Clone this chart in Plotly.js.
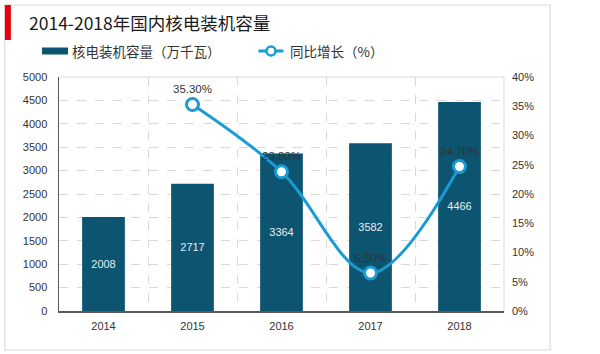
<!DOCTYPE html>
<html>
<head>
<meta charset="utf-8">
<script src="https://cdn.plot.ly/plotly-3.0.1.min.js"></script>
<style>
html,body{margin:0;padding:0;background:#fff;}
#chart{width:600px;height:354px;}
</style>
</head>
<body>
<div id="chart"></div>
<script>
const years = ['2014', '2015', '2016', '2017', '2018'];
const capacity = [2008, 2717, 3364, 3582, 4466];
const growth = [null, 35.3, 23.8, 6.5, 24.7];
const seriesNames = ['核电装机容量（万千瓦）', '同比增长（%）'];
const chartTitle = '2014-2018年国内核电装机容量';

const FONT = 'Liberation Sans, Arial, Noto Sans CJK SC, sans-serif';
const barColor = '#0c5470';
const lineColor = '#1a9bd3';

const traces = [
  {
    type: 'bar', x: years, y: capacity, name: seriesNames[0],
    marker: {color: barColor}, width: 0.48,
    text: capacity.map(String), textposition: 'inside', insidetextanchor: 'middle',
    textfont: {family: FONT, size: 11, color: '#e4eef3'},
    showlegend: false, hoverinfo: 'skip', cliponaxis: false
  },
  {
    type: 'scatter', mode: 'lines+markers+text', x: years, y: growth, name: seriesNames[1],
    yaxis: 'y2', line: {color: lineColor, width: 3, shape: 'spline', smoothing: 1},
    marker: {size: 12, color: '#ffffff', line: {color: lineColor, width: 3}},
    text: growth.map(v => v == null ? '' : v.toFixed(2) + '%'), textposition: 'top center',
    textfont: {family: FONT, size: 11.5, color: '#333333'},
    showlegend: false, hoverinfo: 'skip', cliponaxis: false
  }
];

const layout = {
  width: 600, height: 354,
  margin: {l: 59, r: 96, t: 77, b: 43},
  paper_bgcolor: '#ffffff', plot_bgcolor: '#ffffff',
  font: {family: FONT, size: 11, color: '#333333'},
  bargap: 0.52,
  xaxis: {
    type: 'category', tickson: 'boundaries', showgrid: true,
    gridcolor: '#d9d9d9', griddash: 'dash', gridwidth: 1,
    showline: true, linecolor: '#595959', linewidth: 1.5,
    ticks: '', ticklabelstandoff: 4, tickfont: {family: FONT, size: 11, color: '#333333'},
    fixedrange: true
  },
  yaxis: {
    range: [0, 5000], dtick: 500, showgrid: true, gridcolor: '#d9d9d9', griddash: 'dash',
    showline: true, linecolor: '#595959', linewidth: 1.5, zeroline: false,
    ticks: '', ticklabelstandoff: 8, tickfont: {family: FONT, size: 11, color: '#333333'}
  },
  yaxis2: {
    overlaying: 'y', side: 'right', range: [0, 40], dtick: 5, ticksuffix: '%',
    showgrid: false, zeroline: false, showline: false, ticklabelstandoff: 7,
    tickfont: {family: FONT, size: 11, color: '#333333'}
  },
  shapes: [
    {type: 'rect', xref: 'paper', yref: 'paper', x0: -54/444, x1: 490/444, y0: -39/234, y1: 306/234,
     line: {color: '#dcdcdc', width: 1.2}, fillcolor: 'rgba(0,0,0,0)', layer: 'below'},
    {type: 'rect', xref: 'paper', yref: 'paper', x0: -54/444, x1: -48/444, y0: 271/234, y1: 306/234,
     line: {width: 0}, fillcolor: '#e8000b'},
    {type: 'line', xref: 'paper', yref: 'paper', x0: 0, x1: 1, y0: 1, y1: 1, line: {color: '#d9d9d9', width: 1}},
    {type: 'line', xref: 'paper', yref: 'paper', x0: 1, x1: 1, y0: 0, y1: 1, line: {color: '#d9d9d9', width: 1}},
    {type: 'rect', xref: 'paper', yref: 'paper', x0: -17/444, x1: 9/444, y0: 256.5/234, y1: 263.5/234,
     line: {width: 0}, fillcolor: barColor},
    {type: 'line', xref: 'paper', yref: 'paper', x0: 199/444, x1: 224/444, y0: 260/234, y1: 260/234,
     line: {color: lineColor, width: 3}},
    {type: 'circle', xref: 'paper', yref: 'paper', x0: 207/444, x1: 216/444, y0: 255.5/234, y1: 264.5/234,
     line: {color: lineColor, width: 2.5}, fillcolor: '#ffffff'}
  ],
  annotations: [
    {text: chartTitle, xref: 'paper', yref: 'paper', x: -32/444, y: 288/234, xanchor: 'left', yanchor: 'middle',
     showarrow: false, font: {family: 'Noto Sans CJK SC, sans-serif', size: 17.5, color: '#1a1a1a'}},
    {text: seriesNames[0], xref: 'paper', yref: 'paper', x: 11/444, y: 260/234, xanchor: 'left', yanchor: 'middle',
     showarrow: false, font: {family: 'Noto Sans CJK SC, sans-serif', size: 13.5, color: '#333333'}},
    {text: seriesNames[1], xref: 'paper', yref: 'paper', x: 228/444, y: 260/234, xanchor: 'left', yanchor: 'middle',
     showarrow: false, font: {family: 'Noto Sans CJK SC, sans-serif', size: 13.5, color: '#333333'}}
  ]
};

Plotly.newPlot('chart', traces, layout, {displayModeBar: false, staticPlot: true});
</script>
</body>
</html>
